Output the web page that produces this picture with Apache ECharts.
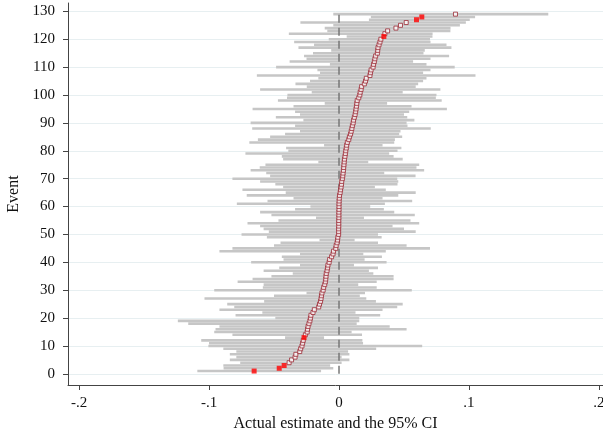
<!DOCTYPE html>
<html>
<head>
<meta charset="utf-8">
<script src="https://cdn.jsdelivr.net/npm/echarts@6/dist/echarts.min.js"></script>
<style>
  html, body { margin: 0; padding: 0; background: #fff; }
  #chart { width: 603px; height: 432px; }
</style>
</head>
<body>
<div id="chart"></div>
<script>
// point estimates, events 1..129 (sorted ascending)
const estimate = [
  -0.0653, -0.0460, -0.0422, -0.0384, -0.0365, -0.0338, -0.0332, -0.0302, -0.0295, -0.0285,
  -0.0280, -0.0275, -0.0269, -0.0259, -0.0245, -0.0242, -0.0238, -0.0231, -0.0224, -0.0220,
  -0.0216, -0.0200, -0.0190, -0.0156, -0.0150, -0.0142, -0.0138, -0.0135, -0.0131, -0.0122,
  -0.0118, -0.0110, -0.0105, -0.0102, -0.0100, -0.0098, -0.0092, -0.0088, -0.0085, -0.0076,
  -0.0072, -0.0057, -0.0046, -0.0042, -0.0025, -0.0022, -0.0015, -0.0011, -0.0009, -0.0003,
  -0.0003, -0.0003, -0.0002, -0.0002, -0.0002, -0.0001, -0.0001, -0.0001, 0.0000, 0.0000,
  0.0000, 0.0001, 0.0002, 0.0004, 0.0009, 0.0012, 0.0016, 0.0019, 0.0021, 0.0026,
  0.0029, 0.0031, 0.0034, 0.0036, 0.0038, 0.0040, 0.0042, 0.0046, 0.0049, 0.0052,
  0.0056, 0.0059, 0.0064, 0.0075, 0.0080, 0.0089, 0.0094, 0.0099, 0.0103, 0.0109,
  0.0112, 0.0118, 0.0124, 0.0128, 0.0131, 0.0134, 0.0137, 0.0140, 0.0152, 0.0160,
  0.0163, 0.0170, 0.0174, 0.0195, 0.0204, 0.0210, 0.0238, 0.0242, 0.0247, 0.0262,
  0.0266, 0.0272, 0.0276, 0.0282, 0.0295, 0.0298, 0.0300, 0.0308, 0.0315, 0.0322,
  0.0345, 0.0353, 0.0374, 0.0438, 0.0473, 0.0517, 0.0596, 0.0637, 0.0896
];

// lower bound of the 95% CI
const lower = [
  -0.109, -0.0888, -0.089, -0.076, -0.084, -0.079, -0.084, -0.079, -0.089, -0.1005,
  -0.100, -0.106, -0.0415, -0.082, -0.096, -0.095, -0.092, -0.116, -0.124, -0.049,
  -0.0796, -0.059, -0.092, -0.0806, -0.086, -0.0576, -0.1035, -0.050, -0.025, -0.096,
  -0.0586, -0.058, -0.078, -0.0665, -0.052, -0.0356, -0.058, -0.046, -0.030, -0.0676,
  -0.0427, -0.044, -0.030, -0.092, -0.082, -0.050, -0.045, -0.015, -0.0555, -0.075,
  -0.054, -0.058, -0.0607, -0.0704, -0.0466, -0.0177, -0.052, -0.0607, -0.0338, -0.022,
  -0.0786, -0.055, -0.035, -0.071, -0.041, -0.0743, -0.043, -0.049, -0.0607, -0.082,
  -0.053, -0.056, -0.068, -0.061, -0.0566, -0.0159, -0.043, -0.044, -0.072, -0.039,
  -0.0407, -0.0115, -0.069, -0.0624, -0.053, -0.0415, -0.030, -0.0668, -0.0338, -0.068,
  -0.0274, -0.0486, -0.030, -0.0338, -0.0665, -0.035, -0.011, -0.047, -0.040, -0.0397,
  -0.021, -0.0607, -0.0248, -0.0335, -0.0223, -0.0159, -0.0632, -0.0146, -0.0166, -0.0484,
  -0.007, -0.038, -0.025, -0.0269, -0.020, -0.006, -0.0312, -0.0192, -0.0345, -0.0079,
  0.0059, -0.0386, -0.009, -0.011, -0.0044, -0.0297, 0.023, 0.0245, -0.0044
];

// upper bound of the 95% CI
const upper = [
  -0.0138, -0.0044, -0.0068, 0.002, 0.008, 0.002, 0.008, 0.007, 0.0286, 0.064,
  0.0185, 0.018, -0.0115, 0.0177, 0.0097, 0.052, 0.039, 0.0136, 0.0156, 0.0156,
  0.0317, 0.0127, 0.0335, 0.0448, 0.049, 0.0284, 0.021, 0.016, 0.020, 0.056,
  0.029, 0.0148, 0.029, 0.042, 0.042, 0.0264, 0.023, 0.030, 0.0115, 0.0366,
  0.0197, 0.033, 0.0187, 0.036, 0.070, 0.052, 0.030, 0.012, 0.0328, 0.030,
  0.059, 0.050, 0.0412, 0.0617, 0.055, 0.0192, 0.0583, 0.0425, 0.0345, 0.024,
  0.0353, 0.0563, 0.0335, 0.0456, 0.059, 0.036, 0.0276, 0.045, 0.0456, 0.0448,
  0.0589, 0.0348, 0.0655, 0.0596, 0.0617, 0.0225, 0.049, 0.042, 0.0386, 0.045,
  0.048, 0.0335, 0.0425, 0.043, 0.0486, 0.0463, 0.0473, 0.0706, 0.0527, 0.052,
  0.058, 0.0525, 0.050, 0.054, 0.083, 0.0558, 0.037, 0.079, 0.0745, 0.075,
  0.049, 0.078, 0.059, 0.0609, 0.0647, 0.0673, 0.105, 0.0647, 0.0704, 0.089,
  0.0673, 0.057, 0.0704, 0.0847, 0.065, 0.066, 0.0865, 0.0827, 0.0704, 0.070,
  0.0719, 0.072, 0.0857, 0.0858, 0.093, 0.0976, 0.1006, 0.1047, 0.161
];

const events = estimate.map((_, i) => i + 1);
const yTicks = [0, 10, 20, 30, 40, 50, 60, 70, 80, 90, 100, 110, 120, 130];
const xTicks = [-0.2, -0.1, 0, 0.1, 0.2];
const refX = 0;

const FONT = "'Liberation Serif', 'DejaVu Serif', serif";

const ciData = events.map((e, i) => [e, lower[i], upper[i]]);
const isSig = (i) => lower[i] > 0 || upper[i] < 0;
const hollowPts = [];
const solidPts = [];
events.forEach((e, i) => {
  (isSig(i) ? solidPts : hollowPts).push([estimate[i], e]);
});

const fmtX = (v) => {
  if (Math.abs(v) < 1e-9) return "0";
  const s = String(Math.round(v * 10) / 10);
  return s.replace("0.", ".");
};

const chart = echarts.init(document.getElementById("chart"), null, { renderer: "canvas" });

const option = {
  animation: false,
  backgroundColor: "#fff",
  grid: { left: 68, right: 0, top: 3, bottom: 47, outerBoundsMode: "none", containLabel: false },
  xAxis: {
    type: "value",
    min: -0.2085,
    max: 0.2031,
    name: "Actual estimate and the 95% CI",
    nameLocation: "middle",
    nameGap: 27,
    nameTextStyle: { fontFamily: FONT, fontSize: 16, color: "#111" },
    axisLine: { show: true, onZero: false, lineStyle: { color: "#444", width: 1 } },
    axisTick: { show: true, length: 5, customValues: xTicks, lineStyle: { color: "#444" } },
    axisLabel: {
      customValues: xTicks,
      formatter: fmtX,
      margin: 11,
      fontFamily: FONT,
      fontSize: 15,
      color: "#111"
    },
    splitLine: { show: false }
  },
  yAxis: {
    type: "value",
    min: -4,
    max: 133,
    name: "Event",
    nameLocation: "middle",
    nameGap: 43,
    nameTextStyle: { fontFamily: FONT, fontSize: 16, color: "#111" },
    axisLine: { show: true, onZero: false, lineStyle: { color: "#444", width: 1 } },
    axisTick: { show: true, length: 5, customValues: yTicks, lineStyle: { color: "#444" } },
    axisLabel: {
      customValues: yTicks,
      margin: 13,
      fontFamily: FONT,
      fontSize: 15,
      color: "#111"
    },
    splitLine: { show: true, lineStyle: { color: "#e7eff1", width: 1 } }
  },
  series: [
    {
      type: "custom",
      name: "CI",
      z: 2,
      encode: { x: [1, 2], y: 0 },
      data: ciData,
      renderItem: function (params, api) {
        const r = api.value(0);
        const a = api.coord([api.value(1), r]);
        const b = api.coord([api.value(2), r]);
        const h = api.size([0, 1])[1] * 0.92;
        return {
          type: "rect",
          shape: { x: a[0], y: a[1] - h / 2, width: b[0] - a[0], height: h },
          style: { fill: "#c6c6c6" }
        };
      }
    },
    {
      type: "line",
      name: "zero",
      z: 3,
      data: [[refX, 0], [refX, 130]],
      symbol: "none",
      lineStyle: { color: "#777", width: 1.5, type: [8, 5] },
      silent: true
    },
    {
      type: "scatter",
      name: "estimate",
      z: 4,
      data: hollowPts,
      symbol: "rect",
      symbolSize: 4,
      itemStyle: { color: "#fff", borderColor: "#9c2b36", borderWidth: 1 }
    },
    {
      type: "scatter",
      name: "significant",
      z: 5,
      data: solidPts,
      symbol: "rect",
      symbolSize: 5,
      itemStyle: { color: "#ff0000" }
    }
  ]
};

chart.setOption(option);
</script>
</body>
</html>
